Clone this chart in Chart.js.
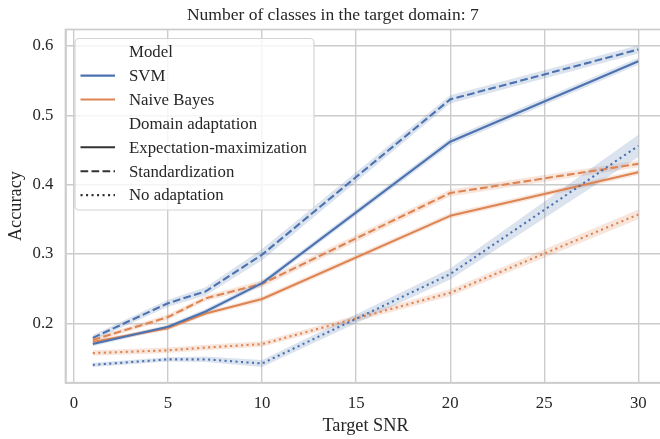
<!DOCTYPE html>
<html lang="en">
<head>
    <meta charset="UTF-8">
    <title>Number of classes in the target domain: 7</title>
    <script src="https://cdn.jsdelivr.net/npm/chart.js"></script>
    <style>
        html, body { margin: 0; padding: 0; background: #fff; overflow: hidden; }
        #wrap { width: 731px; height: 439px; }
    </style>
</head>
<body>
    <div id="wrap"><canvas id="accChart" width="731" height="439"></canvas></div>

    <script>
        // values
        const snr = [1, 5, 7, 10, 20, 30];

        const svmEM   = [0.170, 0.195, 0.217, 0.258, 0.462, 0.578];
        const svmStd  = [0.179, 0.229, 0.246, 0.299, 0.523, 0.595];
        const svmNone = [0.140, 0.148, 0.148, 0.142, 0.271, 0.456];
        const nbEM    = [0.173, 0.193, 0.214, 0.235, 0.355, 0.418];
        const nbStd   = [0.176, 0.209, 0.236, 0.257, 0.388, 0.430];
        const nbNone  = [0.157, 0.161, 0.165, 0.170, 0.244, 0.357];

        // half width of the confidence bands
        const svmEMci   = [0.003, 0.003, 0.004, 0.004, 0.005, 0.005];
        const svmStdci  = [0.004, 0.005, 0.006, 0.008, 0.006, 0.006];
        const svmNoneci = [0.003, 0.003, 0.004, 0.005, 0.008, 0.016];
        const nbEMci    = [0.003, 0.003, 0.003, 0.004, 0.004, 0.004];
        const nbStdci   = [0.003, 0.004, 0.004, 0.005, 0.005, 0.005];
        const nbNoneci  = [0.004, 0.004, 0.004, 0.004, 0.005, 0.007];

        const xTicks = [0, 5, 10, 15, 20, 25, 30];
        const yTicks = [0.2, 0.3, 0.4, 0.5, 0.6];

        const models = ['SVM', 'Naive Bayes'];
        const adaptations = ['Expectation-maximization', 'Standardization', 'No adaptation'];

        const BLUE = '#4c72b0';
        const ORANGE = '#dd8452';
        const dashes = [[], [7.7, 3.3], [2.1, 3.4]];
        const serif = "'Liberation Serif', 'Times New Roman', serif";

        function pts(ys) {
            return snr.map((x, i) => ({ x: x, y: ys[i] }));
        }

        const series = [
            { vals: svmEM, ci: svmEMci, color: BLUE, style: 0 },
            { vals: svmStd, ci: svmStdci, color: BLUE, style: 1 },
            { vals: svmNone, ci: svmNoneci, color: BLUE, style: 2 },
            { vals: nbEM, ci: nbEMci, color: ORANGE, style: 0 },
            { vals: nbStd, ci: nbStdci, color: ORANGE, style: 1 },
            { vals: nbNone, ci: nbNoneci, color: ORANGE, style: 2 }
        ];

        const datasets = [];
        series.forEach(s => {
            const band = s.color === BLUE ? 'rgba(76,114,176,0.2)' : 'rgba(221,132,82,0.2)';
            datasets.push({
                data: pts(s.vals.map((v, i) => v - s.ci[i])),
                borderWidth: 0, borderColor: 'rgba(0,0,0,0)', pointRadius: 0, fill: false, order: 2
            });
            datasets.push({
                data: pts(s.vals.map((v, i) => v + s.ci[i])),
                borderWidth: 0, borderColor: 'rgba(0,0,0,0)', pointRadius: 0,
                fill: '-1', backgroundColor: band, order: 2
            });
        });
        series.forEach(s => {
            datasets.push({
                data: pts(s.vals),
                borderColor: s.color,
                borderWidth: 2.1,
                borderDash: dashes[s.style],
                borderJoinStyle: 'round',
                pointRadius: 0,
                fill: false,
                order: 0
            });
        });

        // top/right spines
        const framePlugin = {
            id: 'frame',
            beforeDatasetsDraw(chart) {
                const a = chart.chartArea, ctx = chart.ctx;
                ctx.save();
                ctx.strokeStyle = '#cccccc';
                ctx.lineWidth = 1.7;
                ctx.strokeRect(a.left, a.top, a.right - a.left, a.bottom - a.top);
                ctx.restore();
            }
        };

        // seaborn style legend with section titles
        const legendPlugin = {
            id: 'sbLegend',
            afterDraw(chart) {
                const ctx = chart.ctx;
                const x0 = 75, y0 = 38.5, w = 239, h = 171.5, r = 4;
                ctx.save();
                ctx.beginPath();
                ctx.roundRect(x0, y0, w, h, r);
                ctx.fillStyle = 'rgba(255,255,255,0.8)';
                ctx.fill();
                ctx.strokeStyle = '#d4d4d4';
                ctx.lineWidth = 1.2;
                ctx.stroke();

                const rows = [
                    { text: 'Model' },
                    { text: models[0], color: BLUE, dash: [] },
                    { text: models[1], color: ORANGE, dash: [] },
                    { text: 'Domain adaptation' },
                    { text: adaptations[0], color: '#333333', dash: dashes[0] },
                    { text: adaptations[1], color: '#333333', dash: dashes[1] },
                    { text: adaptations[2], color: '#333333', dash: dashes[2] }
                ];
                ctx.font = '16.8px ' + serif;
                ctx.textBaseline = 'middle';
                rows.forEach((row, i) => {
                    const y = 51.7 + i * 23.9;
                    if (row.color) {
                        ctx.beginPath();
                        ctx.setLineDash(row.dash);
                        ctx.strokeStyle = row.color;
                        ctx.lineWidth = 2.1;
                        ctx.moveTo(80.5, y);
                        ctx.lineTo(115, y);
                        ctx.stroke();
                        ctx.setLineDash([]);
                    }
                    ctx.fillStyle = '#262626';
                    ctx.fillText(row.text, 129, y + 1);
                });
                ctx.restore();
            }
        };

        new Chart(document.getElementById('accChart'), {
            type: 'line',
            data: { datasets: datasets },
            options: {
                responsive: false,
                animation: false,
                layout: { padding: { left: 0, right: 65.4, top: 0, bottom: 0 } },
                plugins: {
                    legend: { display: false },
                    tooltip: { enabled: false },
                    filler: { drawTime: 'beforeDatasetsDraw' },
                    title: {
                        display: true,
                        text: 'Number of classes in the target domain: 7',
                        color: '#262626',
                        font: { family: serif, size: 17.5, weight: 'normal', lineHeight: 1.2 },
                        padding: { top: 4.5, bottom: 4 }
                    }
                },
                scales: {
                    x: {
                        type: 'linear',
                        min: -0.45,
                        max: 31.45,
                        afterFit: s => { s.height = 56.3; },
                        afterBuildTicks: s => { s.ticks = xTicks.map(v => ({ value: v })); },
                        ticks: {
                            includeBounds: false,
                            color: '#262626',
                            padding: 11,
                            maxRotation: 0,
                            font: { family: serif, size: 16.8 }
                        },
                        grid: { color: '#cccccc', lineWidth: 1.4, drawTicks: false },
                        border: { color: '#cccccc', width: 1.7 },
                        title: {
                            display: true,
                            text: 'Target SNR',
                            color: '#262626',
                            font: { family: serif, size: 18.3 },
                            padding: { top: 4, bottom: 2 }
                        }
                    },
                    y: {
                        min: 0.1143,
                        max: 0.6238,
                        afterFit: s => { s.width = 65.5; },
                        afterBuildTicks: s => { s.ticks = yTicks.map(v => ({ value: v })); },
                        ticks: {
                            includeBounds: false,
                            color: '#262626',
                            padding: 12,
                            font: { family: serif, size: 16.8 },
                            callback: v => v.toFixed(1)
                        },
                        grid: { color: '#cccccc', lineWidth: 1.4, drawTicks: false },
                        border: { color: '#cccccc', width: 1.7 },
                        title: {
                            display: true,
                            text: 'Accuracy',
                            color: '#262626',
                            font: { family: serif, size: 18.3 },
                            padding: { top: 5, bottom: 4 }
                        }
                    }
                }
            },
            plugins: [framePlugin, legendPlugin]
        });
    </script>
</body>
</html>
